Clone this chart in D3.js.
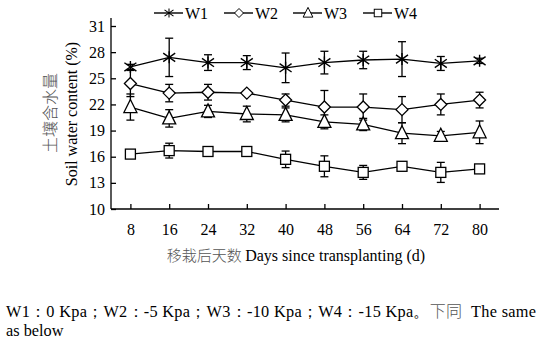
<!DOCTYPE html>
<html>
<head>
<meta charset="utf-8">
<script src="https://cdn.jsdelivr.net/npm/d3@7"></script>
<style>
  body { margin: 0; background: #fff; }
  svg text { font-family: "Liberation Serif", "Times New Roman", serif; fill: #000; }
  .zh { font-family: "Noto Sans CJK SC", sans-serif; fill: #555; font-weight: 300; }
</style>
</head>
<body>
<div id="wrapper"></div>
<script>
const days = [8, 16, 24, 32, 40, 48, 56, 64, 72, 80];
const yTicks = [10, 13, 16, 19, 22, 25, 28, 31];

const w1 = [26.3, 27.4, 26.8, 26.8, 26.2, 26.8, 27.1, 27.2, 26.7, 27.0];
const w1Err = [0.3, 2.2, 0.9, 0.8, 1.7, 1.3, 1.0, 2.0, 0.8, 0.3];
const w2 = [24.4, 23.3, 23.4, 23.3, 22.5, 21.7, 21.7, 21.4, 22.0, 22.5];
const w2Err = [1.5, 1.0, 0.9, 0.2, 0.7, 1.9, 1.5, 1.5, 1.2, 0.9];
const w3 = [21.7, 20.4, 21.2, 20.9, 20.8, 20.0, 19.7, 18.7, 18.4, 18.8];
const w3Err = [1.5, 1.0, 0.7, 0.9, 0.8, 0.8, 0.7, 1.2, 0.5, 1.3];
const w4 = [16.3, 16.7, 16.6, 16.6, 15.7, 14.9, 14.2, 14.9, 14.2, 14.6];
const w4Err = [0.2, 0.85, 0.2, 0.55, 0.95, 1.2, 0.8, 0.3, 1.15, 0.4];

const seriesNames = ["W1", "W2", "W3", "W4"];
const markers = ["asterisk", "diamond", "triangle", "square"];

const series = [
  { name: seriesNames[0], marker: markers[0], values: w1, errs: w1Err },
  { name: seriesNames[1], marker: markers[1], values: w2, errs: w2Err },
  { name: seriesNames[2], marker: markers[2], values: w3, errs: w3Err },
  { name: seriesNames[3], marker: markers[3], values: w4, errs: w4Err },
];

const width = 539, height = 345;

const svg = d3.select("#wrapper").append("svg")
  .attr("width", width)
  .attr("height", height);

const x = d3.scaleLinear().domain([4, 84]).range([111, 499]);
const y = d3.scaleLinear().domain([10, 31]).range([209, 26]);

// axes with inward ticks
const yAxis = svg.append("g")
  .attr("transform", "translate(111,0)")
  .call(d3.axisRight(y).tickValues(yTicks).tickSize(5).tickFormat(d3.format("d")));
yAxis.select(".domain").attr("d", `M0,${y(10)}V18`).attr("stroke-width", 1.3);
yAxis.selectAll("text").attr("x", -6).attr("text-anchor", "end").attr("font-size", 16);
yAxis.selectAll("line").attr("stroke-width", 1.3);

const xAxis = svg.append("g")
  .attr("transform", `translate(0,${y(10)})`)
  .call(d3.axisTop(x).tickValues(days).tickSize(5));
xAxis.select(".domain").attr("d", `M111,0H499`).attr("stroke-width", 1.3);
xAxis.selectAll("text").attr("y", 20).attr("dy", "0.35em").attr("font-size", 16);
xAxis.selectAll("line").attr("stroke-width", 1.3);

// axis titles
const xTitle = svg.append("text")
  .attr("x", 296).attr("y", 261)
  .attr("text-anchor", "middle")
  .attr("font-size", 16);
xTitle.append("tspan").attr("class", "zh").attr("font-size", 15).text("移栽后天数 ");
xTitle.append("tspan").text("Days since transplanting (d)");

svg.append("text")
  .attr("class", "zh")
  .attr("transform", "translate(56,113) rotate(-90)")
  .attr("text-anchor", "middle")
  .attr("font-size", 16)
  .text("土壤含水量");
svg.append("text")
  .attr("transform", "translate(77,114) rotate(-90)")
  .attr("text-anchor", "middle")
  .attr("font-size", 16)
  .text("Soil water content (%)");

function drawMarker(g, type) {
  const s = 6;
  if (type === "asterisk") {
    g.append("path")
      .attr("d", `M0,${-s}V${s}M${-s},${-s * 0.7}L${s},${s * 0.7}M${-s},${s * 0.7}L${s},${-s * 0.7}`)
      .attr("stroke", "#000").attr("stroke-width", 1.4).attr("fill", "none");
  } else if (type === "diamond") {
    g.append("path")
      .attr("d", `M0,${-s}L${s},0L0,${s}L${-s},0Z`)
      .attr("stroke", "#000").attr("stroke-width", 1.3).attr("fill", "#fff");
  } else if (type === "triangle") {
    g.append("path")
      .attr("d", `M0,${-s - 1.5}L${s + 0.5},${s - 0.5}L${-s - 0.5},${s - 0.5}Z`)
      .attr("stroke", "#000").attr("stroke-width", 1.3).attr("fill", "#fff");
  } else {
    g.append("rect")
      .attr("x", -5).attr("y", -5).attr("width", 10).attr("height", 10)
      .attr("stroke", "#000").attr("stroke-width", 1.3).attr("fill", "#fff");
  }
}

const line = d3.line()
  .x((d) => x(d.day))
  .y((d) => y(d.value));

const plot = svg.append("g");

series.forEach((s) => {
  const pts = days.map((d, i) => ({ day: d, value: s.values[i], err: s.errs[i] }));
  const g = plot.append("g");

  g.append("path")
    .datum(pts)
    .attr("d", line)
    .attr("fill", "none")
    .attr("stroke", "#000")
    .attr("stroke-width", 1.3);

  const bars = g.selectAll(".err")
    .data(pts)
    .enter()
    .append("g")
    .attr("stroke", "#000")
    .attr("stroke-width", 1.3);
  bars.append("line")
    .attr("x1", (d) => x(d.day)).attr("x2", (d) => x(d.day))
    .attr("y1", (d) => y(d.value + d.err)).attr("y2", (d) => y(d.value - d.err));
  bars.append("line")
    .attr("x1", (d) => x(d.day) - 4).attr("x2", (d) => x(d.day) + 4)
    .attr("y1", (d) => y(d.value + d.err)).attr("y2", (d) => y(d.value + d.err));
  bars.append("line")
    .attr("x1", (d) => x(d.day) - 4).attr("x2", (d) => x(d.day) + 4)
    .attr("y1", (d) => y(d.value - d.err)).attr("y2", (d) => y(d.value - d.err));

  g.selectAll(".mk")
    .data(pts)
    .enter()
    .append("g")
    .attr("transform", (d) => `translate(${x(d.day)},${y(d.value)})`)
    .each(function () { drawMarker(d3.select(this), s.marker); });
});

// legend
const legendX = [154, 224, 293, 363];
series.forEach((s, i) => {
  const lg = svg.append("g").attr("transform", `translate(${legendX[i]},13)`);
  lg.append("line").attr("x1", 0).attr("x2", 29).attr("y1", 0).attr("y2", 0)
    .attr("stroke", "#000").attr("stroke-width", 1.4);
  const mk = lg.append("g").attr("transform", "translate(15,0) scale(0.75)");
  drawMarker(mk, s.marker);
  lg.append("text").attr("x", 31).attr("y", 0).attr("dy", "0.35em")
    .attr("font-size", 16).text(s.name);
});

// footnote, stretched to the full line width
const foot = svg.append("text").attr("x", 6).attr("y", 317).attr("font-size", 16.3)
  .attr("textLength", 530).attr("lengthAdjust", "spacing");
foot.append("tspan").text("W1：0 Kpa；W2：-5 Kpa；W3：-10 Kpa；W4：-15 Kpa。");
foot.append("tspan").attr("class", "zh").attr("font-size", 16).text("下同");
foot.append("tspan").text("\u00a0\u00a0The same");
svg.append("text").attr("x", 6).attr("y", 336).attr("font-size", 16.3).text("as below");
</script>
</body>
</html>
